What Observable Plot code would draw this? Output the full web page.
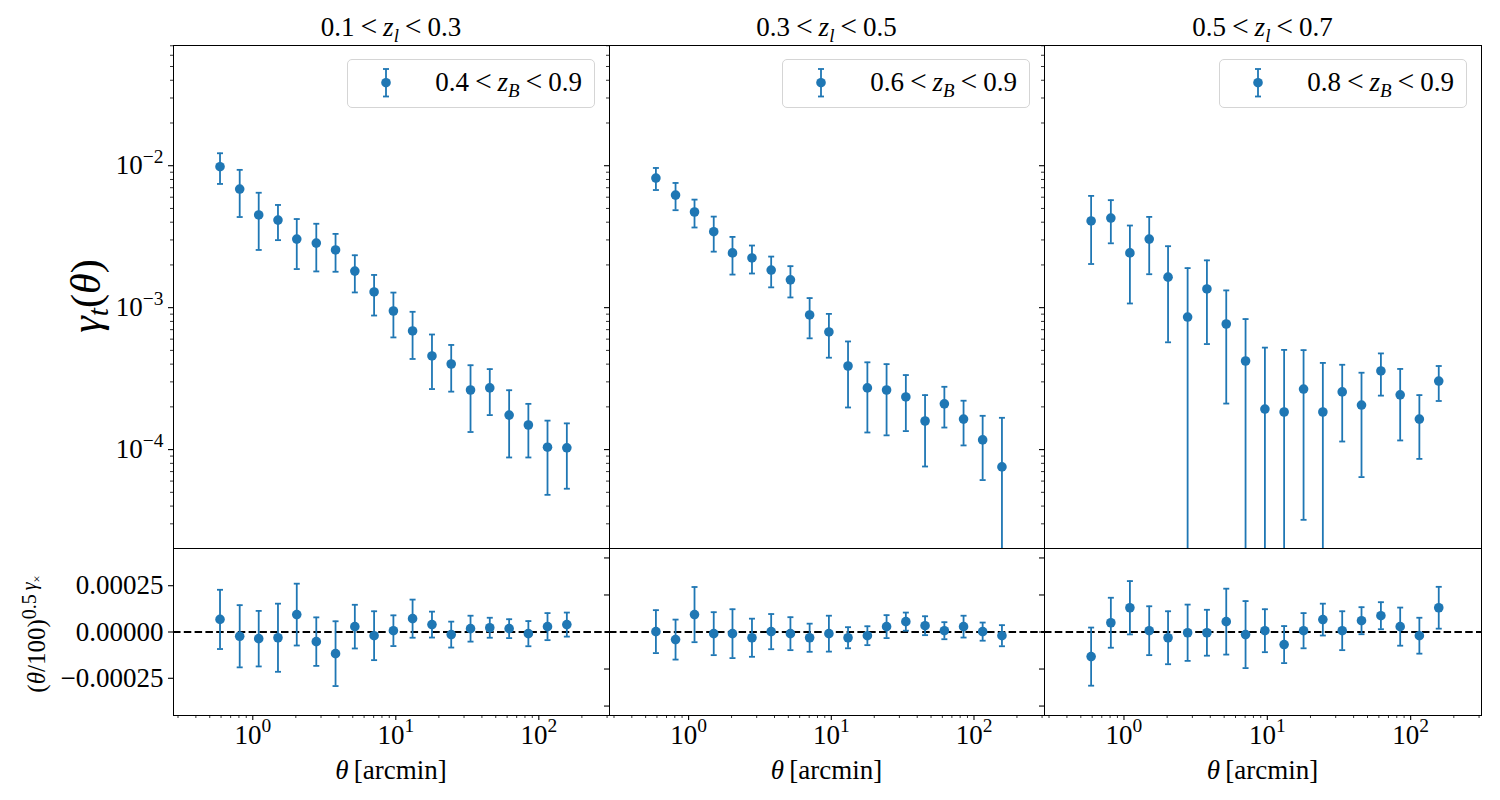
<!DOCTYPE html>
<html><head><meta charset="utf-8">
<script src="https://cdn.jsdelivr.net/npm/d3@7"></script>
<script src="https://cdn.jsdelivr.net/npm/@observablehq/plot@0.6"></script>
<style>
html,body{margin:0;padding:0;background:#fff;}
#fig{position:relative;width:1500px;height:800px;overflow:hidden;font-family:"Liberation Serif","Times New Roman",serif;color:#000;}
.t{position:absolute;white-space:nowrap;line-height:1;}
.sub{font-size:0.7em;position:relative;top:0.28em;}
.sup{font-size:0.8em;position:relative;top:-0.45em;}
.rel{margin:0 0.2em;font-size:1.1em;}
.leg{position:absolute;box-sizing:border-box;border:1px solid #d5d5d5;border-radius:5px;background:rgba(255,255,255,0.8);}
</style></head><body><div id="fig"></div>
<script>
// ---------------- data ----------------
const theta = [0.59, 0.81, 1.1, 1.5, 2.03, 2.78, 3.79, 5.17, 7.05, 9.62, 13.1, 17.9, 24.4, 33.3, 45.4, 62.0, 84.5, 115, 157];

const lensBins = [["0.1", "0.3"], ["0.3", "0.5"], ["0.5", "0.7"]];
const sourceBins = [["0.4", "0.9"], ["0.6", "0.9"], ["0.8", "0.9"]];

const gammaT1 = [0.00984, 0.00685, 0.0045, 0.00414, 0.00304, 0.00285, 0.00255, 0.00181, 0.00129, 0.000947, 0.000685, 0.000457, 0.000401, 0.000263, 0.000272, 0.000175, 0.000149, 0.000104, 0.000103];
const gammaTErr1 = [0.0024, 0.0025, 0.00195, 0.00115, 0.00117, 0.00105, 0.00076, 0.00053, 0.00041, 0.00033, 0.00025, 0.00019, 0.000145, 0.00013, 0.000097, 0.000087, 0.000061, 0.000056, 0.00005];

const gammaT2 = [0.00819, 0.00621, 0.00472, 0.00343, 0.00243, 0.00224, 0.00184, 0.00157, 0.000888, 0.000674, 0.000388, 0.000272, 0.000263, 0.000235, 0.000159, 0.00021, 0.000164, 0.000117, 0.0000755];
const gammaTErr2 = [0.00145, 0.00135, 0.00105, 0.00095, 0.00072, 0.0005, 0.00045, 0.00039, 0.00028, 0.00023, 0.00019, 0.00014, 0.000137, 0.0001, 0.000083, 0.000067, 0.000057, 0.000056, 0.000092];

const gammaT3 = [0.00408, 0.00428, 0.00243, 0.00304, 0.00164, 0.000859, 0.001354, 0.000767, 0.000421, 0.000193, 0.000184, 0.000267, 0.000184, 0.000255, 0.000206, 0.000358, 0.000243, 0.000164, 0.000304];
const gammaTErr3 = [0.00205, 0.00144, 0.00136, 0.00132, 0.00107, 0.00104, 0.0008, 0.000556, 0.00041, 0.00033, 0.00032, 0.000235, 0.000224, 0.000141, 0.000142, 0.000118, 0.000127, 0.000078, 0.000084];

const gammaX1 = [6.8e-5, -2.3e-5, -3.6e-5, -3.1e-5, 9.4e-5, -5.2e-5, -1.17e-4, 2.9e-5, -2.0e-5, 7e-6, 7.2e-5, 4.0e-5, -1.4e-5, 1.8e-5, 2.3e-5, 1.8e-5, -9e-6, 2.9e-5, 4.0e-5];
const gammaXErr1 = [1.6e-4, 1.68e-4, 1.5e-4, 1.84e-4, 1.67e-4, 1.31e-4, 1.75e-4, 1.18e-4, 1.32e-4, 8.3e-5, 1.03e-4, 7.0e-5, 7.0e-5, 7.0e-5, 5.4e-5, 5.1e-5, 6.8e-5, 7.3e-5, 6.5e-5];

const gammaX2 = [2e-6, -4.1e-5, 9.4e-5, -9e-6, -9e-6, -3.1e-5, 2e-6, -9e-6, -3.1e-5, -9e-6, -3.1e-5, -2.0e-5, 2.9e-5, 5.6e-5, 3.4e-5, 7e-6, 2.9e-5, 2e-6, -2.0e-5];
const gammaXErr2 = [1.16e-4, 1.08e-4, 1.49e-4, 1.16e-4, 1.32e-4, 1.03e-4, 9.5e-5, 8.9e-5, 7.6e-5, 9.7e-5, 5.7e-5, 5.1e-5, 6.2e-5, 4.9e-5, 5.1e-5, 4.6e-5, 5.9e-5, 4.9e-5, 5.7e-5];

const gammaX3 = [-1.33e-4, 5.0e-5, 1.31e-4, 7e-6, -3.1e-5, -4e-6, -4e-6, 5.6e-5, -1.4e-5, 7e-6, -6.8e-5, 7e-6, 6.7e-5, 7e-6, 6.1e-5, 8.8e-5, 2.9e-5, -2.0e-5, 1.31e-4];
const gammaXErr3 = [1.57e-4, 1.35e-4, 1.44e-4, 1.32e-4, 1.43e-4, 1.52e-4, 1.24e-4, 1.78e-4, 1.81e-4, 1.16e-4, 1.0e-4, 9.5e-5, 8.6e-5, 1.05e-4, 7.3e-5, 7.3e-5, 1.03e-4, 9.7e-5, 1.13e-4];

// ticks
const xMajorTicks = [1, 10, 100];
const xMinorTicks = [0.3, 0.4, 0.5, 0.6, 0.7, 0.8, 0.9, 2, 3, 4, 5, 6, 7, 8, 9, 20, 30, 40, 50, 60, 70, 80, 90, 200, 300];
const yTopMajorTicks = [1e-4, 1e-3, 1e-2];
const yBotTicksLabelled = [-0.00025, 0, 0.00025];
const yBotTicksPlain = [-0.0004, -0.0002, 0, 0.0002, 0.0004];

// ---------------- layout ----------------
const xDomain = [0.279, 312];
const yTopDomain = [2.01e-5, 0.0703];
const yBotDomain = [-0.000451, 0.000451];
const yTopMinorTicks = d3.range(-5, -1).flatMap(e => d3.range(2, 10).map(k => k * Math.pow(10, e)))
  .filter(v => v > yTopDomain[0] && v < yTopDomain[1]);

const panelL = [173, 609, 1044], panelR = [609, 1044, 1481];
const yTop = 45, yMid = 548, yBot = 715;
const BLUE = "#1f77b4";
const FONT = "Liberation Serif, Times New Roman, serif";
const fig = document.getElementById("fig");

const topSeries = [[gammaT1, gammaTErr1], [gammaT2, gammaTErr2], [gammaT3, gammaTErr3]];
const botSeries = [[gammaX1, gammaXErr1], [gammaX2, gammaXErr2], [gammaX3, gammaXErr3]];

const cap = {draw(ctx, size) { const r = Math.sqrt(size / Math.PI); ctx.moveTo(-r, 0); ctx.lineTo(r, 0); }};

function rows(vals, errs) {
  return theta.map((t, i) => ({theta: t, v: vals[i], lo: vals[i] - errs[i], hi: vals[i] + errs[i]}));
}
function errorMarks(data, yMin, yMax) {
  const inY = v => v > yMin && v < yMax;
  return [
    Plot.ruleX(data, {x: "theta", y1: d => Math.max(d.lo, yMin), y2: d => Math.min(d.hi, yMax), stroke: BLUE, strokeWidth: 1.8}),
    Plot.dot(data.filter(d => inY(d.hi)), {x: "theta", y: "hi", symbol: cap, r: 3, stroke: BLUE, fill: "none", strokeWidth: 1.8}),
    Plot.dot(data.filter(d => inY(d.lo)), {x: "theta", y: "lo", symbol: cap, r: 3, stroke: BLUE, fill: "none", strokeWidth: 1.8}),
    Plot.dot(data, {x: "theta", y: "v", r: 4.8, fill: BLUE, stroke: "none"})
  ];
}
const powFmt = d => "10^" + String(Math.round(Math.log10(d))).replace("-", "\u2212");
const blank = () => "";

function supify(svg) {
  svg.querySelectorAll("text").forEach(t => {
    const m = /^10\^(.+)$/.exec(t.textContent);
    if (!m) return;
    t.textContent = "10";
    const ts = document.createElementNS("http://www.w3.org/2000/svg", "tspan");
    ts.setAttribute("dy", "-0.6em");
    ts.style.fontSize = "72%";
    ts.textContent = m[1];
    t.appendChild(ts);
  });
}
function place(svg, left, top) {
  svg.style.position = "absolute";
  svg.style.left = left + "px";
  svg.style.top = top + "px";
  svg.style.maxWidth = "none";
  fig.appendChild(svg);
}
const ML = 120, MR = 20, MT = 15, MB = 60;
const style = {background: "transparent", overflow: "visible", fontFamily: FONT, fontSize: "27px", color: "black"};

for (let i = 0; i < 3; i++) {
  const w = panelR[i] - panelL[i];
  // top panel: gamma_t
  const top = Plot.plot({
    width: w + ML + MR, height: (yMid - yTop) + MT + 15,
    marginLeft: ML, marginRight: MR, marginTop: MT, marginBottom: 15,
    style,
    x: {type: "log", domain: xDomain, axis: null},
    y: {type: "log", domain: yTopDomain},
    marks: [
      Plot.axisY(yTopMinorTicks, {tickSize: 3, strokeWidth: 0.8, tickFormat: blank, label: null}),
      Plot.axisY(yTopMajorTicks, {tickSize: 5, strokeWidth: 1.1, tickPadding: 5, tickFormat: i === 0 ? powFmt : blank, label: null}),
      Plot.frame({stroke: "black", strokeWidth: 1}),
      ...errorMarks(rows(topSeries[i][0], topSeries[i][1]), yTopDomain[0], yTopDomain[1])
    ]
  });
  supify(top);
  place(top, panelL[i] - ML, yTop - MT);

  // bottom panel: gamma_x
  const bot = Plot.plot({
    width: w + ML + MR, height: (yBot - yMid) + MT + MB,
    marginLeft: ML, marginRight: MR, marginTop: MT, marginBottom: MB,
    style,
    x: {type: "log", domain: xDomain},
    y: {domain: yBotDomain},
    marks: [
      Plot.axisX(xMinorTicks, {tickSize: 3, strokeWidth: 0.8, tickFormat: blank, label: null}),
      Plot.axisX(xMajorTicks, {tickSize: 5, strokeWidth: 1.1, tickPadding: 4, tickFormat: powFmt, label: null}),
      i === 0
        ? Plot.axisY(yBotTicksLabelled, {tickSize: 5, strokeWidth: 1.1, tickPadding: 5, tickFormat: d3.format(".5f"), label: null})
        : Plot.axisY(yBotTicksPlain, {tickSize: 5, strokeWidth: 1.1, tickFormat: blank, label: null}),
      Plot.ruleY([0], {stroke: "black", strokeWidth: 2, strokeDasharray: "7.5,3.3"}),
      Plot.frame({stroke: "black", strokeWidth: 1}),
      ...errorMarks(rows(botSeries[i][0], botSeries[i][1]), yBotDomain[0], yBotDomain[1])
    ]
  });
  supify(bot);
  place(bot, panelL[i] - ML, yMid - MT);
}

// ---------------- text ----------------
function addText(html, cx, baseline, size, extra) {
  const d = document.createElement("div");
  d.className = "t";
  d.innerHTML = html;
  d.style.fontSize = size + "px";
  d.style.top = (baseline - 0.8375 * size) + "px";
  d.style.left = cx + "px";
  d.style.transform = "translateX(-50%)";
  if (extra) Object.assign(d.style, extra);
  fig.appendChild(d);
  return d;
}
function addRotated(html, cx, cy, size) {
  const d = document.createElement("div");
  d.className = "t";
  d.innerHTML = html;
  d.style.fontSize = size + "px";
  d.style.left = cx + "px";
  d.style.top = cy + "px";
  d.style.transform = "translate(-50%,-50%) rotate(-90deg)";
  fig.appendChild(d);
}

for (let i = 0; i < 3; i++) {
  const cx = (panelL[i] + panelR[i]) / 2;
  addText(`${lensBins[i][0]}<span class="rel">&lt;</span><i>z</i><span class="sub"><i>l</i></span><span class="rel">&lt;</span>${lensBins[i][1]}`, cx, 35, 27);
  addText(`<i>θ</i>&#8201;[arcmin]`, cx, 780, 27);

  // legend
  const bw = 248, bh = 49;
  const lg = document.createElement("div");
  lg.className = "leg";
  lg.style.left = (panelR[i] - 14 - bw) + "px";
  lg.style.top = "59px";
  lg.style.width = bw + "px";
  lg.style.height = bh + "px";
  lg.innerHTML = `<svg width="14" height="32" style="position:absolute;left:31px;top:7px;overflow:visible">
      <line x1="7" x2="7" y1="2" y2="29.5" stroke="${BLUE}" stroke-width="1.8"/>
      <line x1="4" x2="10" y1="2" y2="2" stroke="${BLUE}" stroke-width="1.8"/>
      <line x1="4" x2="10" y1="29.5" y2="29.5" stroke="${BLUE}" stroke-width="1.8"/>
      <circle cx="7" cy="15.7" r="4.8" fill="${BLUE}"/></svg>
    <div class="t" style="right:12px;top:${30 - 0.8375 * 27}px;font-size:27px">${sourceBins[i][0]}<span class="rel">&lt;</span><i>z</i><span class="sub"><i>B</i></span><span class="rel">&lt;</span>${sourceBins[i][1]}</div>`;
  fig.appendChild(lg);
}

addRotated(`<i>γ</i><span class="sub"><i>t</i></span>(<i>θ</i>)`, 86, 296, 42);
addRotated(`(<i>θ</i>/100)<span class="sup">0.5&#8201;<i>γ</i></span><span class="sub" style="font-size:0.5em;top:-0.3em">×</span>`, 36, 634, 25);
</script></body></html>
